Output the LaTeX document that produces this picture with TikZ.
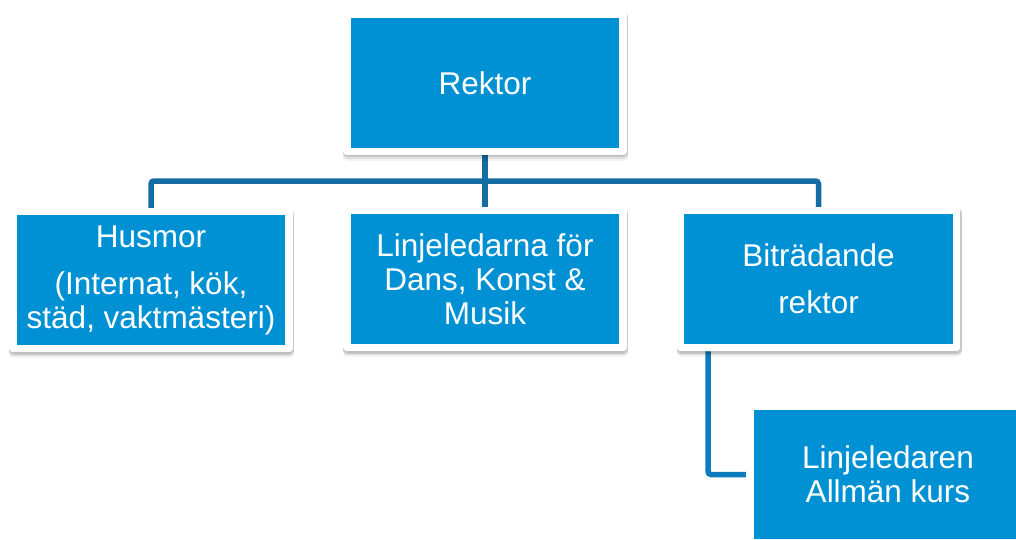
\documentclass[tikz,border=0pt]{standalone}
\usepackage{fontspec}
\setmainfont{Liberation Sans}
\usetikzlibrary{backgrounds}
\definecolor{boxblue}{RGB}{0,145,212}
\definecolor{linkdark}{RGB}{20,108,163}
\definecolor{linklight}{RGB}{12,124,190}
\tikzset{
  shadowlayer/.style 2 args={preaction={draw=black, fill=black, opacity=#1, line width=9pt, line join=round, transform canvas={xshift=0.5pt,yshift=#2}}},
  orgbox/.style={rectangle, fill=boxblue, draw=white, line width=7.5pt, line join=round,
    minimum width=276pt, minimum height=137pt, inner sep=0pt, text=white, align=center,
    font=\fontsize{31.5}{34}\selectfont,
    shadowlayer={0.05}{-5pt}, shadowlayer={0.08}{-3pt}, shadowlayer={0.10}{-1.5pt}},
  linkdk/.style={draw=linkdark, line width=5.5pt, rounded corners=3pt},
  linklt/.style={draw=linklight, line width=5.5pt, rounded corners=3pt}
}
\begin{document}
\begin{tikzpicture}[x=1pt,y=-1pt]
\useasboundingbox (0,0) rectangle (1016,540);
\clip (0,0) rectangle (1016,540);
\node[orgbox] (rektor) at (485,83) {Rektor};
\node[orgbox] (husmor) at (151,280) {Husmor\\[13pt](Internat, kök,\\städ, vaktmästeri)};
\node[orgbox] (linje) at (485,279) {Linjeledarna för\\Dans, Konst \&\\Musik};
\node[orgbox] (bitr) at (818.5,279) {Biträdande\\[13pt]rektor};
\node[orgbox] (allman) at (888,474.5) {Linjeledaren\\Allmän kurs};
\coordinate (bus) at (485,181);
\begin{scope}[on background layer]
\draw[linkdk] (rektor.south) -- (bus);
\draw[linkdk] (husmor.north) -- (husmor.north |- bus) -- (bitr.north |- bus) -- (bitr.north);
\draw[linkdk] (bus) -- (linje.north);
\draw[linklt] (bitr.south -| 708,0) -- (708,0 |- allman.west) -- (allman.west);
\end{scope}
\end{tikzpicture}
\end{document}
